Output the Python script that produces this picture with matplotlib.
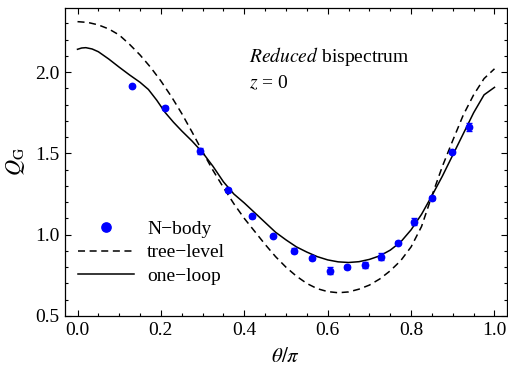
import matplotlib
matplotlib.use("Agg")
import matplotlib.pyplot as plt
from matplotlib.ticker import MultipleLocator, FormatStrFormatter

plt.rcParams["font.family"] = ["Liberation Serif", "DejaVu Serif"]
plt.rcParams["mathtext.fontset"] = "stix"

# N-body measurements of the reduced bispectrum
theta_nbody = [0.131, 0.209, 0.293, 0.361, 0.418, 0.470, 0.519, 0.563, 0.606,
               0.647, 0.689, 0.728, 0.768, 0.808, 0.850, 0.898, 0.938]
q_nbody = [1.915, 1.781, 1.515, 1.275, 1.113, 0.992, 0.902, 0.855, 0.779,
           0.801, 0.812, 0.865, 0.951, 1.080, 1.228, 1.510, 1.664]
q_nbody_err = [0.008, 0.010, 0.020, 0.010, 0.010, 0.008, 0.015, 0.008, 0.020,
               0.015, 0.018, 0.020, 0.010, 0.022, 0.012, 0.010, 0.025]

# tree-level prediction
theta_tree = [0.000, 0.025, 0.050, 0.075, 0.100, 0.125, 0.150, 0.175, 0.200,
              0.225, 0.250, 0.275, 0.300, 0.325, 0.350, 0.375, 0.400, 0.425,
              0.450, 0.475, 0.500, 0.525, 0.550, 0.575, 0.600, 0.625, 0.650,
              0.675, 0.700, 0.725, 0.750, 0.775, 0.800, 0.825, 0.850, 0.875,
              0.900, 0.925, 0.950, 0.975, 1.000]
q_tree = [2.310, 2.305, 2.290, 2.265, 2.228, 2.170, 2.105, 2.030, 1.945,
          1.850, 1.745, 1.630, 1.510, 1.395, 1.290, 1.190, 1.100, 1.020,
          0.940, 0.865, 0.800, 0.745, 0.700, 0.668, 0.650, 0.643, 0.648,
          0.665, 0.690, 0.728, 0.778, 0.840, 0.925, 1.050, 1.240, 1.420,
          1.580, 1.735, 1.860, 1.960, 2.020]

# one-loop prediction
theta_loop = [0.000, 0.010, 0.020, 0.035, 0.050, 0.075, 0.100, 0.125, 0.150,
              0.170, 0.190, 0.210, 0.230, 0.250, 0.275, 0.300, 0.325, 0.350,
              0.375, 0.400, 0.425, 0.450, 0.475, 0.500, 0.525, 0.550, 0.575,
              0.600, 0.625, 0.650, 0.675, 0.700, 0.725, 0.750, 0.775, 0.800,
              0.825, 0.850, 0.875, 0.900, 0.925, 0.950, 0.975, 1.000]
q_loop = [2.140, 2.148, 2.150, 2.142, 2.125, 2.080, 2.030, 1.982, 1.937,
          1.893, 1.827, 1.752, 1.692, 1.638, 1.575, 1.505, 1.420, 1.325,
          1.250, 1.195, 1.135, 1.075, 1.015, 0.968, 0.925, 0.893, 0.865,
          0.845, 0.833, 0.829, 0.834, 0.848, 0.870, 0.905, 0.955, 1.030,
          1.125, 1.240, 1.360, 1.490, 1.620, 1.750, 1.860, 1.906]

x_ticks = [0.0, 0.2, 0.4, 0.6, 0.8, 1.0]
y_ticks = [0.5, 1.0, 1.5, 2.0]

fig = plt.figure(figsize=(5.08, 3.67), dpi=100)
ax = fig.add_axes([65 / 508, 51 / 367, 442 / 508, 308.5 / 367])

blue = "#0000ff"
ax.errorbar(theta_nbody, q_nbody, yerr=q_nbody_err, fmt="none", ecolor=blue,
            elinewidth=1.0, capsize=2.0, capthick=1.0, zorder=3)
ax.plot(theta_nbody, q_nbody, "o", color=blue, markersize=4.6, zorder=4,
        label="N\u2212body")
ax.plot(theta_tree, q_tree, color="black", lw=1.1, linestyle=(0, (4.6, 3.0)),
        label="tree\u2212level")
ax.plot(theta_loop, q_loop, color="black", lw=1.1, label="one\u2212loop")

ax.set_xlim(-0.03, 1.03)
ax.set_ylim(0.5, 2.397)
ax.set_xticks(x_ticks)
ax.set_yticks(y_ticks)
ax.xaxis.set_minor_locator(MultipleLocator(0.05))
ax.yaxis.set_minor_locator(MultipleLocator(0.1))
ax.xaxis.set_major_formatter(FormatStrFormatter("%.1f"))
ax.yaxis.set_major_formatter(FormatStrFormatter("%.1f"))
ax.tick_params(which="both", direction="in", top=True, right=True, width=0.8,
               labelsize=14)
ax.tick_params(which="major", length=4.3, pad=4)
ax.tick_params(which="minor", length=2.2)
for sp in ax.spines.values():
    sp.set_linewidth(0.9)

ax.set_xlabel(r"$\theta/\pi$", fontsize=15, labelpad=7)
ax.set_ylabel(r"$Q_{\mathrm{G}}$", fontsize=16, labelpad=6)

ax.text(0.411, 2.062, r"$\mathit{Reduced}$ bispectrum", fontsize=14,
        va="baseline", ha="left")
ax.text(0.411, 1.902, r"$z$ = 0", fontsize=14, va="baseline", ha="left")

ax.legend(loc="upper left", bbox_to_anchor=(0.03, 0.31), frameon=False,
          fontsize=14, handlelength=2.85, handletextpad=0.68, borderpad=0,
          borderaxespad=0, labelspacing=0.3, markerscale=1.45, numpoints=1)

fig.savefig("out.png", dpi=100)
